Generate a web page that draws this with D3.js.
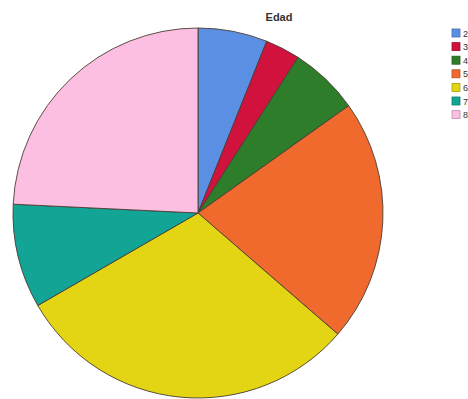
<!DOCTYPE html>
<html><head><meta charset="utf-8">
<script src="https://cdn.jsdelivr.net/npm/d3@7"></script>
<style>body{margin:0;background:#fff;overflow:hidden}</style>
</head><body>
<script>
const categories = ["20-29","30-39","40-49","50-59","60-69","70-79","80+"];
const values = [2,1,2,7,10,3,8];
const colors = ["#5a8fe3","#d1123c","#2e7d2b","#ef6a2c","#e3d514","#12a595","#fcbfe2"];
const title = "Edad";

const W=468,H=399;
const svg=d3.select("body").append("svg").attr("width",W).attr("height",H);
const cx=198, cy=213, r=185;
const data=categories.map((c,i)=>({c,v:values[i],col:colors[i]}));
const pie=d3.pie().value(d=>d.v).sort(null);
const arc=d3.arc().innerRadius(0).outerRadius(r);
const g=svg.append("g").attr("transform",`translate(${cx},${cy})`);
g.selectAll("path").data(pie(data)).join("path")
 .attr("d",arc).attr("fill",d=>d.data.col)
 .attr("stroke","#4a3c34").attr("stroke-width",0.9);

svg.append("text").attr("x",279).attr("y",21).attr("text-anchor","middle")
 .attr("font-family","Liberation Sans, Arial, sans-serif").attr("font-size",11).attr("font-weight","bold")
 .attr("fill","#333").text(title);

const color=d3.scaleOrdinal().domain(categories).range(colors);
const leg=svg.append("g").attr("transform","translate(452,29)");
const it=leg.selectAll("g").data(categories).join("g").attr("transform",(d,i)=>`translate(0,${i*13.6})`);
it.append("rect").attr("width",8).attr("height",8).attr("fill",d=>color(d))
 .attr("stroke",d=>d3.color(color(d)).darker(0.8)).attr("stroke-width",0.8);
it.append("text").attr("x",11).attr("y",7.5).attr("font-family","Liberation Sans, Arial, sans-serif")
 .attr("font-size",9).attr("fill","#333").text(d=>d);
</script>
</body></html>
